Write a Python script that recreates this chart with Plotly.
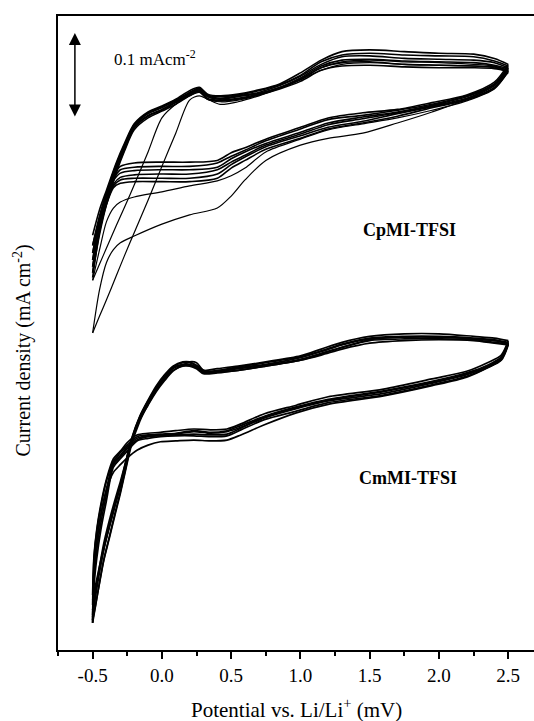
import plotly.graph_objects as go

# ---------------- DATA ----------------
# Potential grids (V vs Li/Li+), anodic (forward) and cathodic (return) sweeps
cp_pot_ox = [-0.5, -0.45, -0.4, -0.33, -0.27, -0.2, -0.1, 0.0, 0.1, 0.2, 0.27, 0.33, 0.42,
             0.55, 0.7, 0.85, 1.0, 1.15, 1.3, 1.5, 1.75, 2.0, 2.25, 2.4, 2.5]
cp_pot_red = [2.5, 2.4, 2.2, 1.95, 1.7, 1.45, 1.2, 1.0, 0.75, 0.6, 0.5, 0.4, 0.2, 0.0,
              -0.2, -0.3, -0.35, -0.4, -0.45, -0.5]

# CpMI-TFSI current density (mA cm-2, stacked offset), one list per cycle
cp_ox_c1 = [0.373, 0.393, 0.412, 0.440, 0.464, 0.491, 0.529, 0.569, 0.608, 0.647, 0.652, 0.648, 0.642,
            0.645, 0.652, 0.661, 0.671, 0.682, 0.689, 0.691, 0.689, 0.688, 0.687, 0.685, 0.680]
cp_red_c1 = [0.679, 0.666, 0.648, 0.633, 0.620, 0.608, 0.602, 0.594, 0.576, 0.553, 0.534, 0.520, 0.512,
             0.501, 0.487, 0.479, 0.471, 0.456, 0.424, 0.373]
cp_ox_c2 = [0.435, 0.454, 0.473, 0.499, 0.521, 0.547, 0.586, 0.626, 0.642, 0.652, 0.656, 0.648, 0.645,
            0.647, 0.653, 0.661, 0.672, 0.685, 0.692, 0.694, 0.692, 0.691, 0.689, 0.687, 0.682]
cp_red_c2 = [0.680, 0.660, 0.646, 0.635, 0.626, 0.619, 0.612, 0.601, 0.586, 0.567, 0.558, 0.552, 0.546,
             0.539, 0.533, 0.527, 0.520, 0.504, 0.471, 0.435]
cp_ox_c3 = [0.444, 0.489, 0.524, 0.561, 0.587, 0.612, 0.626, 0.634, 0.642, 0.652, 0.657, 0.648, 0.646,
            0.648, 0.653, 0.660, 0.669, 0.682, 0.687, 0.688, 0.686, 0.685, 0.685, 0.684, 0.681]
cp_red_c3 = [0.681, 0.661, 0.647, 0.638, 0.628, 0.620, 0.613, 0.602, 0.589, 0.576, 0.567, 0.555, 0.551,
             0.551, 0.551, 0.549, 0.544, 0.524, 0.492, 0.438]
cp_ox_c4 = [0.451, 0.494, 0.527, 0.564, 0.589, 0.614, 0.628, 0.635, 0.644, 0.653, 0.658, 0.649, 0.647,
            0.649, 0.654, 0.661, 0.671, 0.685, 0.691, 0.692, 0.689, 0.688, 0.687, 0.686, 0.682]
cp_red_c4 = [0.682, 0.662, 0.648, 0.639, 0.631, 0.622, 0.615, 0.605, 0.592, 0.580, 0.571, 0.560, 0.555,
             0.555, 0.555, 0.553, 0.546, 0.526, 0.495, 0.444]
cp_ox_c5 = [0.459, 0.500, 0.531, 0.566, 0.591, 0.615, 0.629, 0.636, 0.645, 0.654, 0.659, 0.651, 0.648,
            0.651, 0.655, 0.662, 0.673, 0.687, 0.694, 0.695, 0.693, 0.692, 0.691, 0.688, 0.684]
cp_red_c5 = [0.684, 0.664, 0.649, 0.640, 0.632, 0.625, 0.618, 0.607, 0.594, 0.582, 0.574, 0.565, 0.560,
             0.560, 0.559, 0.556, 0.548, 0.529, 0.499, 0.451]
cp_ox_c6 = [0.467, 0.506, 0.534, 0.568, 0.593, 0.616, 0.631, 0.638, 0.646, 0.655, 0.660, 0.652, 0.649,
            0.652, 0.656, 0.664, 0.675, 0.689, 0.698, 0.699, 0.696, 0.695, 0.694, 0.691, 0.685]
cp_red_c6 = [0.685, 0.665, 0.651, 0.641, 0.633, 0.627, 0.620, 0.609, 0.596, 0.586, 0.578, 0.568, 0.565,
             0.565, 0.564, 0.561, 0.552, 0.532, 0.502, 0.459]
cp_ox_c7 = [0.476, 0.511, 0.538, 0.571, 0.594, 0.618, 0.632, 0.639, 0.647, 0.656, 0.661, 0.653, 0.651,
            0.653, 0.658, 0.665, 0.676, 0.692, 0.700, 0.702, 0.700, 0.699, 0.698, 0.693, 0.687]
cp_red_c7 = [0.687, 0.666, 0.652, 0.642, 0.635, 0.629, 0.624, 0.613, 0.599, 0.588, 0.581, 0.573, 0.569,
             0.569, 0.568, 0.565, 0.554, 0.534, 0.506, 0.467]
cp_ox_c8 = [0.488, 0.518, 0.541, 0.573, 0.596, 0.619, 0.633, 0.640, 0.648, 0.658, 0.662, 0.654, 0.652,
            0.654, 0.659, 0.666, 0.679, 0.694, 0.704, 0.706, 0.704, 0.702, 0.701, 0.696, 0.689]
cp_red_c8 = [0.689, 0.668, 0.653, 0.644, 0.636, 0.632, 0.626, 0.615, 0.601, 0.591, 0.585, 0.576, 0.574,
             0.574, 0.573, 0.569, 0.558, 0.538, 0.508, 0.476]

cm_pot_ox = [-0.5, -0.48, -0.45, -0.42, -0.38, -0.34, -0.3, -0.26, -0.22, -0.16, -0.1, -0.04, 0.02,
             0.08, 0.15, 0.2, 0.25, 0.3, 0.4, 0.55, 0.75, 1.0, 1.15, 1.3, 1.5, 1.75, 2.0, 2.25, 2.4, 2.5]
cm_pot_red = [2.5, 2.45, 2.35, 2.2, 1.95, 1.6, 1.2, 0.97, 0.74, 0.57, 0.47, 0.35, 0.23, 0.1, -0.01,
              -0.1, -0.18, -0.25, -0.3, -0.35, -0.4, -0.44, -0.47, -0.49, -0.5]

# CmMI-TFSI current density (mA cm-2, stacked offset), one list per cycle
cm_ox_c1 = [0.065, 0.076, 0.099, 0.120, 0.145, 0.169, 0.193, 0.220, 0.245, 0.271, 0.288, 0.304, 0.317,
            0.328, 0.335, 0.339, 0.338, 0.329, 0.327, 0.329, 0.334, 0.341, 0.348, 0.356, 0.365, 0.368,
            0.368, 0.366, 0.364, 0.361]
cm_red_c1 = [0.361, 0.342, 0.332, 0.321, 0.311, 0.299, 0.289, 0.279, 0.265, 0.253, 0.247, 0.246, 0.247,
             0.246, 0.245, 0.241, 0.235, 0.226, 0.218, 0.209, 0.188, 0.159, 0.129, 0.098, 0.032]
cm_ox_c2 = [0.059, 0.071, 0.094, 0.118, 0.144, 0.169, 0.194, 0.222, 0.248, 0.275, 0.294, 0.311, 0.324,
            0.334, 0.339, 0.339, 0.335, 0.329, 0.331, 0.334, 0.339, 0.346, 0.354, 0.362, 0.369, 0.372,
            0.372, 0.369, 0.367, 0.364]
cm_red_c2 = [0.364, 0.347, 0.338, 0.328, 0.319, 0.307, 0.298, 0.288, 0.278, 0.266, 0.260, 0.259, 0.260,
             0.258, 0.256, 0.255, 0.253, 0.244, 0.234, 0.225, 0.201, 0.172, 0.142, 0.111, 0.065]
cm_ox_c3 = [0.047, 0.068, 0.098, 0.125, 0.152, 0.176, 0.198, 0.222, 0.247, 0.274, 0.293, 0.309, 0.322,
            0.333, 0.338, 0.338, 0.334, 0.328, 0.329, 0.333, 0.338, 0.345, 0.352, 0.360, 0.367, 0.369,
            0.369, 0.367, 0.365, 0.362]
cm_red_c3 = [0.362, 0.345, 0.335, 0.326, 0.316, 0.305, 0.295, 0.286, 0.275, 0.264, 0.258, 0.256, 0.258,
             0.255, 0.254, 0.253, 0.251, 0.241, 0.232, 0.222, 0.199, 0.169, 0.140, 0.108, 0.053]
cm_ox_c4 = [0.039, 0.062, 0.092, 0.118, 0.146, 0.171, 0.194, 0.220, 0.246, 0.273, 0.292, 0.308, 0.321,
            0.332, 0.336, 0.336, 0.333, 0.327, 0.328, 0.332, 0.336, 0.344, 0.351, 0.359, 0.366, 0.368,
            0.368, 0.366, 0.364, 0.361]
cm_red_c4 = [0.361, 0.344, 0.334, 0.325, 0.315, 0.304, 0.294, 0.285, 0.274, 0.262, 0.257, 0.255, 0.257,
             0.254, 0.253, 0.252, 0.249, 0.239, 0.229, 0.220, 0.190, 0.160, 0.128, 0.095, 0.041]
cm_ox_c5 = [0.032, 0.051, 0.080, 0.106, 0.133, 0.160, 0.186, 0.215, 0.244, 0.272, 0.291, 0.307, 0.320,
            0.331, 0.335, 0.335, 0.332, 0.326, 0.327, 0.331, 0.335, 0.342, 0.349, 0.356, 0.364, 0.366,
            0.366, 0.365, 0.362, 0.360]
cm_red_c5 = [0.360, 0.342, 0.333, 0.324, 0.314, 0.302, 0.293, 0.284, 0.273, 0.261, 0.254, 0.253, 0.254,
             0.253, 0.252, 0.251, 0.247, 0.237, 0.227, 0.218, 0.183, 0.150, 0.118, 0.085, 0.035]
cm_ox_c6 = [0.035, 0.052, 0.079, 0.105, 0.131, 0.158, 0.184, 0.213, 0.241, 0.269, 0.289, 0.306, 0.319,
            0.329, 0.334, 0.334, 0.331, 0.325, 0.326, 0.329, 0.334, 0.341, 0.347, 0.354, 0.361, 0.364,
            0.365, 0.364, 0.361, 0.359]
cm_red_c6 = [0.359, 0.341, 0.332, 0.322, 0.312, 0.300, 0.291, 0.281, 0.271, 0.259, 0.252, 0.251, 0.252,
             0.252, 0.251, 0.249, 0.246, 0.234, 0.225, 0.215, 0.176, 0.142, 0.108, 0.075, 0.032]

cp_cycles = [(cp_ox_c1, cp_red_c1), (cp_ox_c2, cp_red_c2), (cp_ox_c3, cp_red_c3),
             (cp_ox_c4, cp_red_c4), (cp_ox_c5, cp_red_c5), (cp_ox_c6, cp_red_c6),
             (cp_ox_c7, cp_red_c7), (cp_ox_c8, cp_red_c8)]
cm_cycles = [(cm_ox_c1, cm_red_c1), (cm_ox_c2, cm_red_c2), (cm_ox_c3, cm_red_c3),
             (cm_ox_c4, cm_red_c4), (cm_ox_c5, cm_red_c5), (cm_ox_c6, cm_red_c6)]

tick_vals = [-0.5, 0.0, 0.5, 1.0, 1.5, 2.0, 2.5]
tick_text = ["-0.5", "0.0", "0.5", "1.0", "1.5", "2.0", "2.5"]
minor_vals = [-0.75, -0.25, 0.25, 0.75, 1.25, 1.75, 2.25]

scale_bar_pot = -0.628
scale_bar_j = [0.626, 0.726]   # 0.1 mA cm-2

labels = ["CpMI-TFSI", "CmMI-TFSI"]
label_pos = [(1.79, 0.494), (1.78, 0.202)]

# ---------------- FIGURE ----------------
SERIF = "Liberation Serif"
fig = go.Figure()

def add_branch(xs, ys, w):
    fig.add_trace(go.Scatter(x=xs, y=ys, mode="lines",
                             line=dict(color="black", width=w, shape="spline", smoothing=0.8),
                             showlegend=False, hoverinfo="skip"))

for i, (ox, red) in enumerate(cp_cycles):
    w = 1.2 if i < 2 else 1.6
    add_branch(cp_pot_ox, ox, w)
    add_branch(cp_pot_red, red, w)
for ox, red in cm_cycles:
    add_branch(cm_pot_ox, ox, 1.7)
    add_branch(cm_pot_red, red, 1.7)

annotations = []
# scale bar arrow
annotations.append(dict(x=scale_bar_pot, y=scale_bar_j[1], ax=scale_bar_pot, ay=scale_bar_j[0],
                        xref="x", yref="y", axref="x", ayref="y", text="", showarrow=True,
                        arrowhead=2, arrowside="end+start", arrowsize=1.6, arrowwidth=1.5,
                        arrowcolor="black", standoff=0, startstandoff=0))
annotations.append(dict(x=-0.36, y=0.697, xref="x", yref="y", xanchor="left", yanchor="middle",
                        text="0.1 mAcm<sup>-2</sup>", showarrow=False,
                        font=dict(family=SERIF, size=17, color="black")))
for lab, (px, py) in zip(labels, label_pos):
    annotations.append(dict(x=px, y=py, xref="x", yref="y", text="<b>" + lab + "</b>",
                            showarrow=False, font=dict(family=SERIF, size=18, color="black")))
# axis titles
annotations.append(dict(x=0.5, y=-0.093, xref="paper", yref="paper", xanchor="center",
                        yanchor="middle", showarrow=False,
                        text="Potential vs. Li/Li<sup>+</sup> (mV)",
                        font=dict(family=SERIF, size=21, color="black")))
annotations.append(dict(x=-0.074, y=0.472, xref="paper", yref="paper", xanchor="center",
                        yanchor="middle", showarrow=False, textangle=-90,
                        text="Current density (mA cm<sup>-2</sup>)",
                        font=dict(family=SERIF, size=20, color="black")))

fig.update_layout(
    width=534, height=721,
    margin=dict(l=58, r=0, t=16, b=71, pad=0),
    paper_bgcolor="white", plot_bgcolor="white",
    font=dict(family=SERIF, color="black"),
    annotations=annotations,
    xaxis=dict(range=[-0.75, 2.686], showgrid=False, zeroline=False,
               showline=True, linecolor="black", linewidth=2, mirror=True,
               tickmode="array", tickvals=tick_vals, ticktext=tick_text,
               ticks="outside", ticklen=7, tickwidth=2, tickcolor="black",
               tickfont=dict(family=SERIF, size=19, color="black"),
               minor=dict(tickmode="array", tickvals=minor_vals, ticks="outside",
                          ticklen=4, tickwidth=2, tickcolor="black", showgrid=False)),
    yaxis=dict(range=[0, 0.7459], showgrid=False, zeroline=False,
               showline=True, linecolor="black", linewidth=2, mirror=False,
               ticks="", showticklabels=False),
)

fig.write_html("out.html", config={"displayModeBar": False})
